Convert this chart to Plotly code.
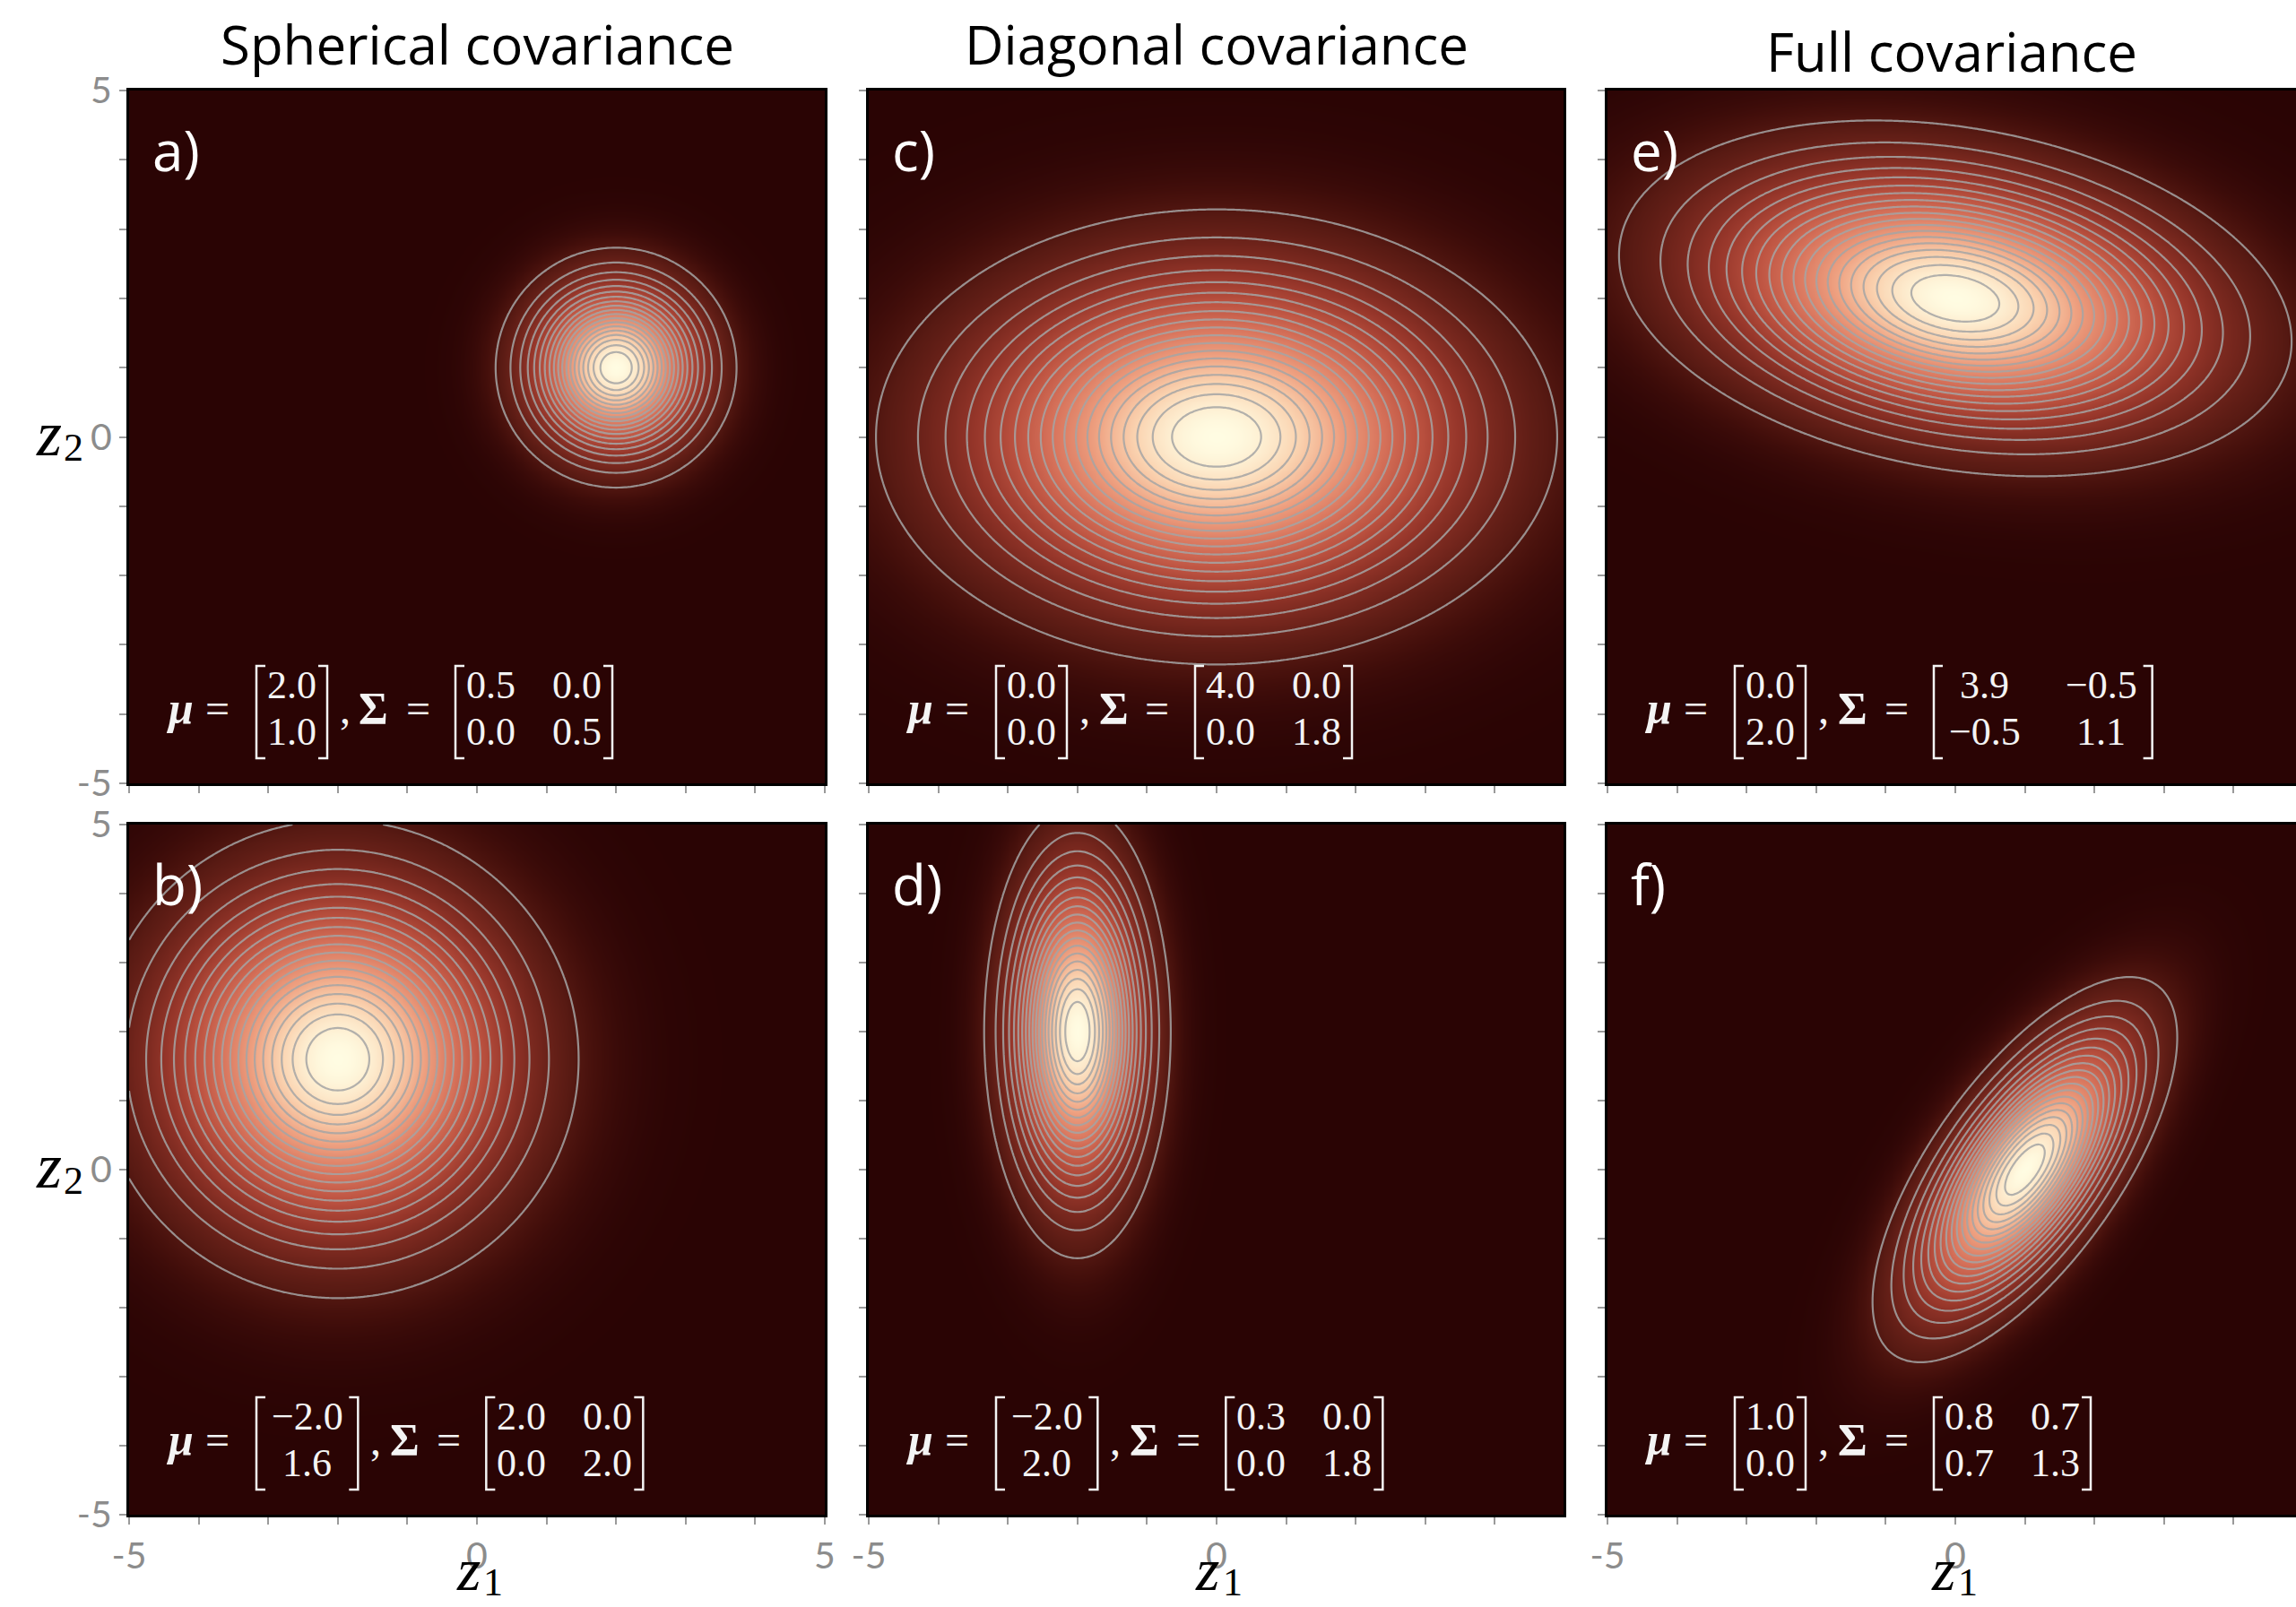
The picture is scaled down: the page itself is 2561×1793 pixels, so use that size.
import numpy as np
import plotly.graph_objects as go

# ---------------- data ----------------
column_titles = ["Spherical covariance", "Diagonal covariance", "Full covariance"]
panel_letters = ["a)", "b)", "c)", "d)", "e)", "f)"]

mean_a = [2.0, 1.0]
cov_a = [[0.5, 0.0], [0.0, 0.5]]
mean_b = [-2.0, 1.6]
cov_b = [[2.0, 0.0], [0.0, 2.0]]
mean_c = [0.0, 0.0]
cov_c = [[4.0, 0.0], [0.0, 1.8]]
mean_d = [-2.0, 2.0]
cov_d = [[0.3, 0.0], [0.0, 1.8]]
mean_e = [0.0, 2.0]
cov_e = [[3.9, -0.5], [-0.5, 1.1]]
mean_f = [1.0, 0.0]
cov_f = [[0.8, 0.7], [0.7, 1.3]]

means = [mean_a, mean_b, mean_c, mean_d, mean_e, mean_f]
covs = [cov_a, cov_b, cov_c, cov_d, cov_e, cov_f]

tick_values = [-5, 0, 5]
tick_labels = ["-5", "0", "5"]

# ---------------- layout constants (pixels) ----------------
W, H = 2561, 1793
col_left = [144, 969, 1793]
col_right = [920, 1744, 2561]
row_top = [101, 920]
row_bottom = [874, 1690]
PX_PER_UNIT = 77.6

colorscale = [
    [0.00, "rgb(42,4,4)"],
    [0.01, "rgb(52,8,7)"],
    [0.03, "rgb(68,15,11)"],
    [0.06, "rgb(88,26,19)"],
    [0.12, "rgb(114,37,28)"],
    [0.22, "rgb(150,54,42)"],
    [0.35, "rgb(188,82,64)"],
    [0.50, "rgb(216,116,92)"],
    [0.68, "rgb(238,160,128)"],
    [0.84, "rgb(250,210,175)"],
    [1.00, "rgb(255,252,226)"],
]

grid = np.linspace(-5, 5, 241)
GX, GY = np.meshgrid(grid, grid)

fig = go.Figure()
annotations = []
shapes = []

math_font = "Liberation Serif"
sans_font = "Open Sans"
MATH_SIZE = 44
txt_col = "#f4f4f4"


def px(x):
    return x / W


def py(y):
    return 1 - y / H


def fmt(v):
    s = f"{v:.1f}"
    return s.replace("-", "\u2212")


def text_w(s):
    w = 0
    for ch in s:
        if ch == ".":
            w += 0.25
        elif ch == "\u2212":
            w += 0.78
        else:
            w += 0.5
    return w * MATH_SIZE


def add_text(x, y, s, size=MATH_SIZE, font=math_font, color=txt_col, xanchor="center",
             yanchor="middle", weight="normal", style="normal"):
    annotations.append(dict(x=px(x), y=py(y), xref="paper", yref="paper", text=s, showarrow=False,
                            xanchor=xanchor, yanchor=yanchor,
                            font=dict(family=font, size=size, color=color,
                                      weight=weight, style=style)))


def add_bracket(x, ytop, ybot, side):
    d = 10 if side == "l" else -10
    path = (f"M {px(x + d)},{py(ytop)} L {px(x)},{py(ytop)} "
            f"L {px(x)},{py(ybot)} L {px(x + d)},{py(ybot)}")
    shapes.append(dict(type="path", path=path, xref="paper", yref="paper",
                       line=dict(color=txt_col, width=2.5), layer="above"))


for i in range(6):
    col, row = i // 2, i % 2
    n = i + 1
    xs = "" if n == 1 else str(n)
    L, R = col_left[col], col_right[col]
    T, B = row_top[row], row_bottom[row]

    mu = np.array(means[i])
    S = np.array(covs[i])
    Si = np.linalg.inv(S)
    dx = GX - mu[0]
    dy = GY - mu[1]
    m2 = Si[0, 0] * dx * dx + 2 * Si[0, 1] * dx * dy + Si[1, 1] * dy * dy
    dens = np.exp(-0.5 * m2)  # normalised to peak 1

    fig.add_trace(go.Heatmap(x=grid, y=grid, z=dens, colorscale=colorscale, zmin=0, zmax=1,
                             zsmooth="best", showscale=False, hoverinfo="skip",
                             xaxis="x" + xs, yaxis="y" + xs))
    fig.add_trace(go.Contour(x=grid, y=grid, z=dens, showscale=False, hoverinfo="skip",
                             contours=dict(coloring="none", start=0.05, end=0.951, size=0.05),
                             line=dict(color="rgba(165,165,165,0.85)", width=2.2, smoothing=1),
                             xaxis="x" + xs, yaxis="y" + xs))

    xr_end = -5 + (R - L) / PX_PER_UNIT
    axis_common = dict(showline=True, mirror=True, linecolor="black", linewidth=3,
                       ticks="outside", ticklen=8, tickwidth=2, tickcolor="#9a9a9a",
                       tickmode="array", tickvals=tick_values, ticktext=tick_labels,
                       minor=dict(ticks="outside", dtick=1, tick0=0, ticklen=8, tickwidth=2,
                                  tickcolor="#9a9a9a", showgrid=False),
                       showgrid=False, zeroline=False, automargin=False,
                       tickfont=dict(family="Lato", size=41, color="#8c8c8c"))
    fig.update_layout(**{
        "xaxis" + xs: dict(axis_common, domain=[px(L), px(R)], range=[-5, xr_end],
                           anchor="y" + xs, showticklabels=(row == 1)),
        "yaxis" + xs: dict(axis_common, domain=[py(B), py(T)], range=[-5, 5],
                           anchor="x" + xs, showticklabels=(col == 0)),
    })

    # panel letter
    add_text(L + 24, T + 22, panel_letters[i], size=62, font=sans_font, color="white",
             xanchor="left", yanchor="top")

    # parameter annotation
    r1 = B - 110
    r2 = B - 58
    mid = B - 84
    btop = B - 131
    bbot = B - 28
    add_text(L + 56, mid, "\u03bc", size=50, weight="bold", style="italic")
    add_text(L + 98, mid, "=", size=48)
    vl = L + 142
    v_strs = [fmt(v) for v in means[i]]
    wv = max(text_w(s) for s in v_strs)
    add_bracket(vl, btop, bbot, "l")
    vc = vl + 12 + wv / 2
    add_text(vc, r1, v_strs[0])
    add_text(vc, r2, v_strs[1])
    vr = vl + 12 + wv + 12
    add_bracket(vr, btop, bbot, "r")
    add_text(vr + 20, mid, ",", size=48)
    add_text(vr + 52, mid, "\u03a3", size=50, weight="bold")
    add_text(vr + 101, mid, "=", size=48)
    ml = vr + 143
    add_bracket(ml, btop, bbot, "l")
    c1 = [fmt(covs[i][0][0]), fmt(covs[i][1][0])]
    c2 = [fmt(covs[i][0][1]), fmt(covs[i][1][1])]
    w1 = max(text_w(s) for s in c1)
    w2 = max(text_w(s) for s in c2)
    c1c = ml + 12 + w1 / 2
    c2s = ml + 12 + w1 + 41
    c2c = c2s + w2 / 2
    add_text(c1c, r1, c1[0])
    add_text(c1c, r2, c1[1])
    add_text(c2c, r1, c2[0])
    add_text(c2c, r2, c2[1])
    add_bracket(c2s + w2 + 12, btop, bbot, "r")

# column titles
title_y = [49, 49, 57]
for c in range(3):
    add_text((col_left[c] + col_right[c]) / 2, title_y[c], column_titles[c], size=60,
             font=sans_font, color="black")

# axis labels (italic z with a subscript index)
for c in range(3):
    xc = (col_left[c] + col_right[c]) / 2
    add_text(xc - 10, 1791, "z", size=68, font=math_font, color="black",
             yanchor="bottom", style="italic")
    add_text(xc + 18, 1792, "1", size=44, font=math_font, color="black", yanchor="bottom")
for r in range(2):
    yc = (row_top[r] + row_bottom[r]) / 2
    add_text(54, yc - 4, "z", size=72, font=math_font, color="black", style="italic")
    add_text(82, yc + 12, "2", size=44, font=math_font, color="black")

fig.update_layout(width=W, height=H, margin=dict(l=0, r=0, t=0, b=0, autoexpand=False),
                  paper_bgcolor="white", plot_bgcolor="rgb(42,4,4)",
                  annotations=annotations, shapes=shapes, showlegend=False)

fig.write_html("out.html", config={"displayModeBar": False},
               post_script="document.body.style.margin='0';document.body.style.overflow='hidden';")
